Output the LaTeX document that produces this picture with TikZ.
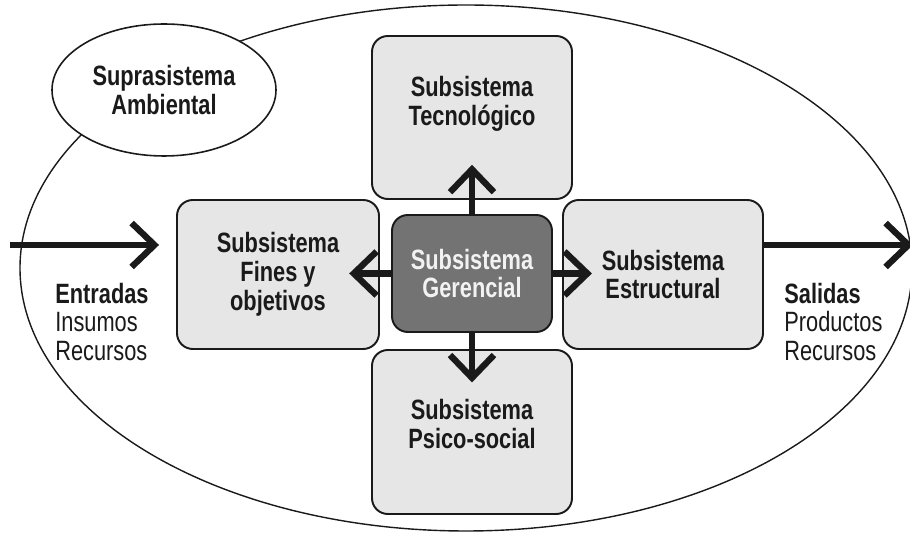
\documentclass[tikz,border=0pt]{standalone}
\usepackage{fontspec}
\setmainfont{Liberation Sans}[FakeStretch=0.78]
\usetikzlibrary{arrows.meta,shapes.geometric}
\definecolor{cajagris}{HTML}{E6E6E6}
\definecolor{cajaoscura}{HTML}{737373}
\definecolor{tinta}{HTML}{1A1A1A}
\tikzset{
  caja/.style={draw=tinta,line width=1.1pt,fill=cajagris,rounded corners=9pt,
    align=center,text=tinta,inner sep=0pt,
    font=\fontsize{15.9}{16.4}\selectfont\bfseries},
  rotulo/.style={align=center,text=tinta,inner sep=0pt,
    font=\fontsize{15.9}{16.4}\selectfont\bfseries},
  flecha/.style={draw=tinta,line width=3.6pt,
    -{Straight Barb[length=13pt,width=25pt]}},
  etiqueta/.style={align=left,text=tinta,inner sep=0pt,anchor=north west,
    font=\fontsize{15.9}{16.4}\selectfont}
}
\begin{document}
\begin{tikzpicture}[line join=round]
            \useasboundingbox (0,0) rectangle (18.2,10.68);
            % sistema
            \draw[tinta,line width=0.8pt] (9.32,5.32) ellipse [x radius=8.92, y radius=5.26];
            \node[ellipse,draw=tinta,line width=0.9pt,fill=white,minimum width=4.48cm,
                  minimum height=2.64cm,rotulo]
                  (supra) at (3.28,8.88) {Suprasistema\\Ambiental};
            % subsistemas
            \node[caja,minimum width=4cm,minimum height=3.26cm] (tecno) at (9.44,8.33) {};
            \node[rotulo] (tecnoT) at (9.44,8.6) {Subsistema\\Tecnológico};
            \node[caja,minimum width=4.04cm,minimum height=2.98cm] (fines) at (5.56,5.19) {Subsistema\\Fines y\\objetivos};
            \node[caja,minimum width=4cm,minimum height=3.28cm] (psico) at (9.44,2.04) {};
            \node[rotulo] (psicoT) at (9.44,2.2) {Subsistema\\Psico-social};
            \node[caja,minimum width=4cm,minimum height=2.98cm] (estruc) at (13.26,5.19) {Subsistema\\Estructural};
            \node[caja,fill=cajaoscura,text=white!95!black,minimum width=3.2cm,minimum height=2.34cm] (geren) at (9.44,5.21) {Subsistema\\Gerencial};
            % flechas internas
            \draw[flecha,shorten >=-20pt] (geren.north) -- (tecno.south);
            \draw[flecha,shorten >=-19pt] (geren.south) -- (psico.north);
            \draw[flecha,shorten >=-17.5pt] (geren.west) -- (geren.west -| fines.east);
            \draw[flecha,shorten >=-17pt] (geren.east) -- (geren.east -| estruc.west);
            % entradas y salidas
            \coordinate (entra) at (0.2,5.78);
            \coordinate (sale) at (18.26,5.78);
            \draw[flecha,shorten >=0.34cm] (entra) -- (entra -| fines.west);
            \draw[flecha] (estruc.east |- sale) -- (sale);
            \node[etiqueta] (entradas) at (1.1,5.03) {\textbf{Entradas}\\Insumos\\Recursos};
            \node[etiqueta] (salidas) at (15.68,5.03) {\textbf{Salidas}\\Productos\\Recursos};
\end{tikzpicture}
\end{document}
